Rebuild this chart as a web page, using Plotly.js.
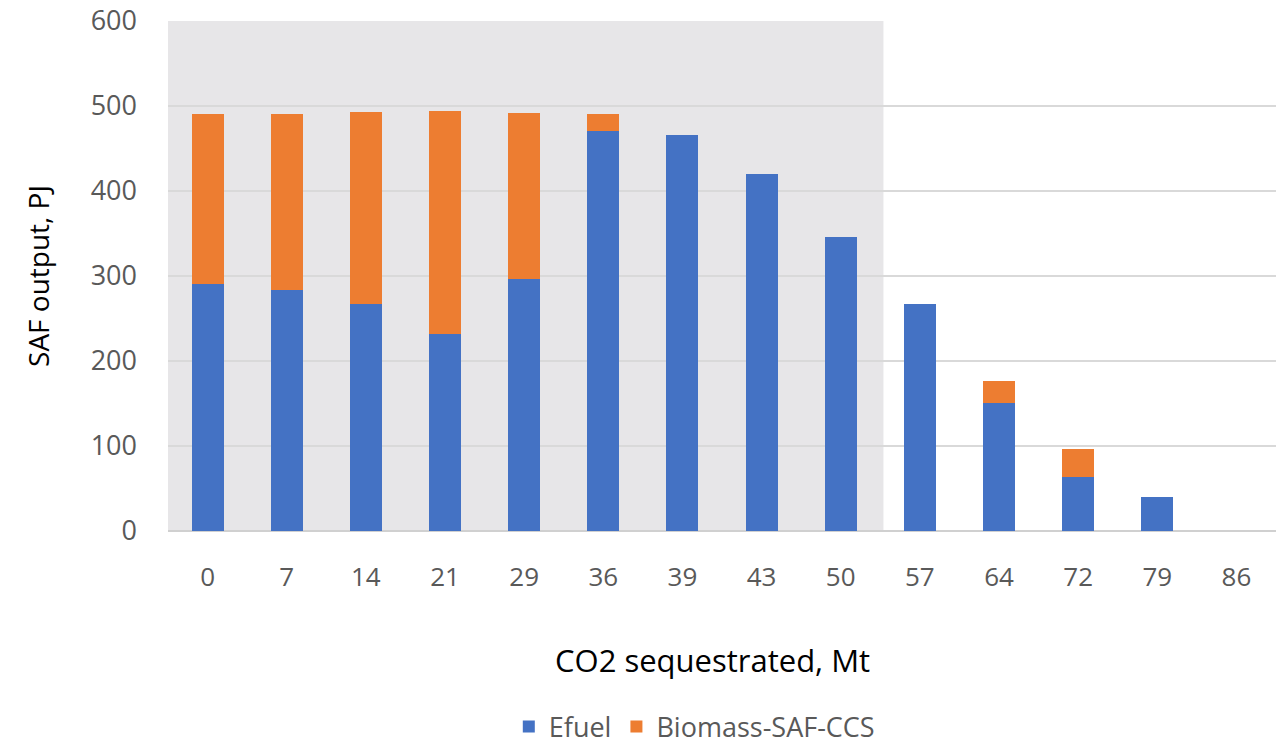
<!DOCTYPE html>
<html>
<head>
<meta charset="utf-8">
<script src="https://cdn.plot.ly/plotly-3.0.1.min.js"></script>
<style>html,body{margin:0;padding:0;background:#fff;}#chart{width:1276px;height:747px;}</style>
</head>
<body>
<div id="chart"></div>
<script>
const categories = ["0","7","14","21","29","36","39","43","50","57","64","72","79","86"];
const efuel = [291, 284, 267, 232, 296, 471, 466, 420, 346, 267, 151, 64, 40, 0];
const biomass = [200, 207, 226, 262, 196, 20, 0, 0, 0, 0, 25, 32, 0, 0];
const yTicks = [0, 100, 200, 300, 400, 500, 600];

const font = "Open Sans, Noto Sans, sans-serif";
const traces = [
  {type: "bar", name: "Efuel", x: categories, y: efuel, marker: {color: "#4472c4"}},
  {type: "bar", name: "Biomass-SAF-CCS", x: categories, y: biomass, marker: {color: "#ed7d31"}}
];
const layout = {
  width: 1276, height: 747,
  margin: {l: 168, r: 0, t: 21, b: 216},
  barmode: "stack",
  bargap: 0.595,
  paper_bgcolor: "#ffffff",
  plot_bgcolor: "rgba(0,0,0,0)",
  font: {family: font, color: "#595959", size: 26},
  xaxis: {
    type: "category",
    showgrid: false,
    ticks: "",
    showline: false,
    ticklabelstandoff: 28,
    tickfont: {size: 26, color: "#595959"},
    automargin: false
  },
  yaxis: {
    range: [0, 600],
    tickvals: yTicks,
    ticktext: yTicks.map(String),
    showgrid: true,
    gridcolor: "#d9d9d9",
    gridwidth: 1.5,
    zeroline: true,
    zerolinecolor: "#d0d0d0",
    zerolinewidth: 1.5,
    ticks: "",
    ticklabelstandoff: 30,
    tickfont: {size: 27, color: "#595959"},
    title: {text: "SAF output, PJ", font: {size: 28, color: "#000000"}, standoff: 32},
    automargin: false
  },
  annotations: [{
    text: "CO2 sequestrated, Mt", xref: "paper", yref: "paper",
    x: 0.491, y: -0.253, xanchor: "center", yanchor: "middle",
    showarrow: false, font: {size: 31, color: "#000000", family: font}
  }],
  shapes: [{
    type: "rect", xref: "x", yref: "paper",
    x0: -0.5, x1: 8.54, y0: 0, y1: 1,
    fillcolor: "#e7e6e8", line: {width: 0}, layer: "between"
  }],
  showlegend: true,
  legend: {
    orientation: "h", x: 0.475, xanchor: "center",
    yref: "container", y: 0.027, yanchor: "middle",
    font: {size: 27, color: "#595959"}, traceorder: "normal"
  }
};
Plotly.newPlot("chart", traces, layout, {displayModeBar: false, staticPlot: true});
</script>
</body>
</html>
